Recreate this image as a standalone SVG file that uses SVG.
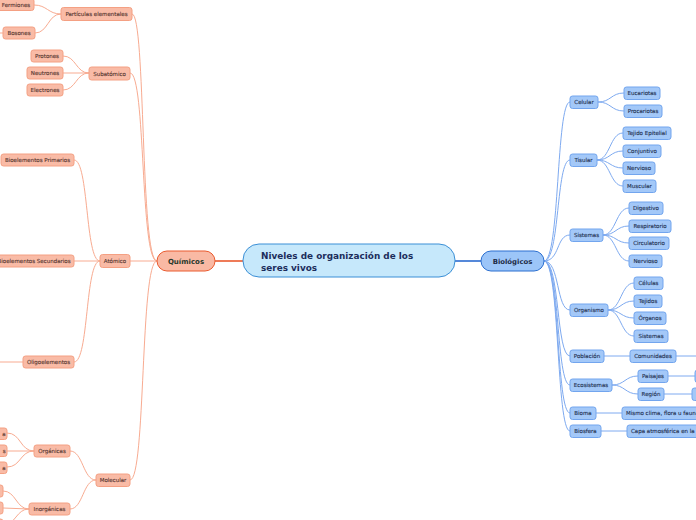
<svg xmlns="http://www.w3.org/2000/svg" width="696" height="520" viewBox="0 0 696 520">
<style>
.o rect{fill:#f9bba6;stroke:#f4a083;stroke-width:1}
.o text{fill:#553630;stroke:#553630;stroke-width:0.12;font-family:"DejaVu Sans",sans-serif;font-size:5.5px;text-anchor:middle}
.b rect{fill:#a3c8f8;stroke:#72a5ee;stroke-width:1}
.b text{fill:#223050;stroke:#223050;stroke-width:0.12;font-family:"DejaVu Sans",sans-serif;font-size:5.5px;text-anchor:middle}
.co path{fill:none;stroke:#f8ab91;stroke-width:1}
.cb path{fill:none;stroke:#7eaaf0;stroke-width:1}
</style>
<rect width="696" height="520" fill="#ffffff"/>
<g id="connectors">
  <path d="M243,261 L215,261" style="fill:none;stroke:#ea5a2e;stroke-width:1.6"/>
  <path d="M455,261 L481,261" style="fill:none;stroke:#2a6ad0;stroke-width:1.6"/>
  <g class="co">
    <path d="M157,261 C140,261 146,14 132,14"/>
    <path d="M157,261 C140,261 146,73 130,73"/>
    <path d="M157,261 L130,261"/>
    <path d="M157,261 C140,261 146,480 130,480"/>
    <path d="M61,14 C48,14 47,5 34,5"/>
    <path d="M61,14 C48,14 48,33 35,33"/>
    <path d="M3,33 L-5,33"/>
    <path d="M89,73 C76,73 76,56 63,56"/>
    <path d="M89,73 L63,73"/>
    <path d="M89,73 C76,73 76,90 63,90"/>
    <path d="M100,261 C85,261 89,160 74,160"/>
    <path d="M100,261 L74,261"/>
    <path d="M100,261 C85,261 89,362 74,362"/>
    <path d="M23,362 L-5,362"/>
    <path d="M96,480 C83,480 83,451 70,451"/>
    <path d="M96,480 C83,480 83,509 70,509"/>
    <path d="M34,451 C20,451 21,433 7,433"/>
    <path d="M34,451 L7,451"/>
    <path d="M34,451 C20,451 21,467 7,467"/>
    <path d="M29,509 C16,509 16,491 3,491"/>
    <path d="M29,509 L3,508"/>
    <path d="M29,509 C16,509 16,525 3,525"/>
  </g>
  <g class="cb">
    <path d="M544,261 C560,261 556,102 570,102"/>
    <path d="M544,261 C560,261 556,160 570,160"/>
    <path d="M544,261 C560,261 556,235 570,235"/>
    <path d="M544,261 C560,261 556,310 570,310"/>
    <path d="M544,261 C560,261 556,356 570,356"/>
    <path d="M544,261 C560,261 556,385 570,385"/>
    <path d="M544,261 C560,261 556,413 570,413"/>
    <path d="M544,261 C560,261 556,431 570,431"/>
    <path d="M598,102 C611,102 611,93 624,93"/>
    <path d="M598,102 C611,102 611,111 624,111"/>
    <path d="M597,160 C610,160 610,133 623,133"/>
    <path d="M597,160 C610,160 610,151 623,151"/>
    <path d="M597,160 C610,160 610,168 623,168"/>
    <path d="M597,160 C610,160 610,186 623,186"/>
    <path d="M603,235 C616,235 616,208 629,208"/>
    <path d="M603,235 C616,235 616,226 629,226"/>
    <path d="M603,235 C616,235 616,243 629,243"/>
    <path d="M603,235 C616,235 616,261 629,261"/>
    <path d="M608,310 C621,310 621,283 634,283"/>
    <path d="M608,310 C621,310 621,301 634,301"/>
    <path d="M608,310 C621,310 621,318 634,318"/>
    <path d="M608,310 C621,310 621,336 634,336"/>
    <path d="M604,356 L630,356"/>
    <path d="M676,356 L700,356"/>
    <path d="M612,385 C625,385 625,376 638,376"/>
    <path d="M612,385 C625,385 625,394 638,394"/>
    <path d="M668,376 L695,376"/>
    <path d="M664,394 L692,394"/>
    <path d="M596,413 L622,413"/>
    <path d="M601,431 L627,431"/>
  </g>
</g>
<g id="central">
  <rect x="243" y="244" width="212" height="33" rx="16" fill="#c6e8fb" stroke="#3b8fd6" stroke-width="1"/>
  <text x="261" y="259" font-family="DejaVu Sans,sans-serif" font-size="8.9" font-weight="bold" fill="#1c2d5c">Niveles de organización de los</text>
  <text x="261" y="270.5" font-family="DejaVu Sans,sans-serif" font-size="8.9" font-weight="bold" fill="#1c2d5c">seres vivos</text>
</g>
<g id="quimicos">
  <rect x="157" y="251" width="58" height="20" rx="10" fill="#f9b9a4" stroke="#ea5a2e" stroke-width="1"/>
  <text x="186" y="263.5" font-family="DejaVu Sans,sans-serif" font-size="7" font-weight="bold" fill="#27382c" text-anchor="middle">Químicos</text>
</g>
<g id="biologicos">
  <rect x="481" y="251" width="63" height="20" rx="10" fill="#9cc5f8" stroke="#2b6fd0" stroke-width="1"/>
  <text x="512.5" y="263.5" font-family="DejaVu Sans,sans-serif" font-size="6.9" font-weight="bold" fill="#1c2a45" text-anchor="middle">Biológicos</text>
</g>
<g id="particulas" class="o"><rect x="61" y="7.5" width="71" height="13" rx="2.5"/><text x="96.5" y="16">Partículas elementales</text></g>
<g id="fermiones" class="o"><rect x="-6" y="-1.5" width="40" height="12" rx="2.5"/><text x="16" y="6.5">Fermiones</text></g>
<g id="bosones" class="o"><rect x="3" y="27" width="32" height="12" rx="2.5"/><text x="19" y="35">Bosones</text></g>
<g id="subatomico" class="o"><rect x="89" y="67" width="41" height="13" rx="2.5"/><text x="109.5" y="75.5">Subatómico</text></g>
<g id="protones" class="o"><rect x="31" y="50" width="32" height="12" rx="2.5"/><text x="47" y="58">Protones</text></g>
<g id="neutrones" class="o"><rect x="27" y="67" width="36" height="12" rx="2.5"/><text x="45" y="75">Neutrones</text></g>
<g id="electrones" class="o"><rect x="27" y="84" width="36" height="12" rx="2.5"/><text x="45" y="92">Electrones</text></g>
<g id="atomico" class="o"><rect x="100" y="254.5" width="30" height="13" rx="2.5"/><text x="115" y="263">Atómico</text></g>
<g id="bioprim" class="o"><rect x="1" y="154" width="73" height="12" rx="2.5"/><text x="37.5" y="162">Bioelementos Primarios</text></g>
<g id="biosec" class="o"><rect x="-8" y="255" width="82" height="12" rx="2.5"/><text x="34" y="263">Bioelementos Secundarios</text></g>
<g id="oligo" class="o"><rect x="23" y="356" width="51" height="12" rx="2.5"/><text x="48.5" y="364">Oligoelementos</text></g>
<g id="molecular" class="o"><rect x="96" y="474" width="34" height="12.5" rx="2.5"/><text x="113" y="482.2">Molecular</text></g>
<g id="organicas" class="o"><rect x="34" y="445" width="36" height="12" rx="2.5"/><text x="52" y="453">Orgánicas</text></g>
<g id="inorganicas" class="o"><rect x="29" y="503" width="41" height="12" rx="2.5"/><text x="49.5" y="511">Inorgánicas</text></g>
<g id="org1" class="o"><rect x="-40" y="428" width="47" height="11.5" rx="2.5"/><text x="5.5" y="435.7" style="text-anchor:end">a</text></g>
<g id="org2" class="o"><rect x="-40" y="445" width="47" height="11.5" rx="2.5"/><text x="5.5" y="452.7" style="text-anchor:end">s</text></g>
<g id="org3" class="o"><rect x="-40" y="462" width="47" height="11.5" rx="2.5"/><text x="5.5" y="469.7" style="text-anchor:end">a</text></g>
<g id="inorg1" class="o"><rect x="-40" y="485" width="43" height="12" rx="2.5"/></g>
<g id="inorg2" class="o"><rect x="-40" y="502" width="43" height="12" rx="2.5"/></g>
<g id="inorg3" class="o"><rect x="-40" y="519" width="43" height="12" rx="2.5"/></g>
<g id="celular" class="b"><rect x="570" y="96" width="28" height="12.5" rx="2.5"/><text x="584" y="104.2">Celular</text></g>
<g id="eucariotas" class="b"><rect x="624" y="87" width="36" height="12.5" rx="2.5"/><text x="642" y="95.2">Eucariotas</text></g>
<g id="procariotas" class="b"><rect x="624" y="105" width="38" height="12.5" rx="2.5"/><text x="643" y="113.2">Procariotas</text></g>
<g id="tisular" class="b"><rect x="570" y="154" width="27" height="12.5" rx="2.5"/><text x="583.5" y="162.2">Tisular</text></g>
<g id="epitelial" class="b"><rect x="623" y="127" width="48" height="12.5" rx="2.5"/><text x="647" y="135.2">Tejido Epitelial</text></g>
<g id="conjuntivo" class="b"><rect x="623" y="145" width="38" height="12.5" rx="2.5"/><text x="642" y="153.2">Conjuntivo</text></g>
<g id="nervioso1" class="b"><rect x="623" y="162" width="32" height="12.5" rx="2.5"/><text x="639" y="170.2">Nervioso</text></g>
<g id="muscular" class="b"><rect x="623" y="180" width="33" height="12.5" rx="2.5"/><text x="639.5" y="188.2">Muscular</text></g>
<g id="sistemas" class="b"><rect x="570" y="229" width="33" height="12.5" rx="2.5"/><text x="586.5" y="237.2">Sistemas</text></g>
<g id="digestivo" class="b"><rect x="629" y="202" width="34" height="12.5" rx="2.5"/><text x="646" y="210.2">Digestivo</text></g>
<g id="respiratorio" class="b"><rect x="629" y="220" width="42" height="12.5" rx="2.5"/><text x="650" y="228.2">Respiratorio</text></g>
<g id="circulatorio" class="b"><rect x="629" y="237" width="40" height="12.5" rx="2.5"/><text x="649" y="245.2">Circulatorio</text></g>
<g id="nervioso2" class="b"><rect x="629" y="255" width="33" height="12.5" rx="2.5"/><text x="645.5" y="263.2">Nervioso</text></g>
<g id="organismo" class="b"><rect x="570" y="304" width="38" height="12.5" rx="2.5"/><text x="589" y="312.2">Organismo</text></g>
<g id="celulas" class="b"><rect x="634" y="277" width="29" height="12.5" rx="2.5"/><text x="648.5" y="285.2">Células</text></g>
<g id="tejidos" class="b"><rect x="634" y="295" width="28" height="12.5" rx="2.5"/><text x="648" y="303.2">Tejidos</text></g>
<g id="organos" class="b"><rect x="634" y="312" width="32" height="12.5" rx="2.5"/><text x="650" y="320.2">Órganos</text></g>
<g id="sistemas2" class="b"><rect x="634" y="330" width="34" height="12.5" rx="2.5"/><text x="651" y="338.2">Sistemas</text></g>
<g id="poblacion" class="b"><rect x="570" y="350" width="34" height="12.5" rx="2.5"/><text x="587" y="358.2">Población</text></g>
<g id="comunidades" class="b"><rect x="630" y="350" width="46" height="12.5" rx="2.5"/><text x="653" y="358.2">Comunidades</text></g>
<g id="ecosistemas" class="b"><rect x="570" y="379" width="42" height="12.5" rx="2.5"/><text x="591" y="387.2">Ecosistemas</text></g>
<g id="paisajes" class="b"><rect x="638" y="370" width="30" height="12.5" rx="2.5"/><text x="653" y="378.2">Paisajes</text></g>
<g id="region" class="b"><rect x="638" y="388" width="26" height="12.5" rx="2.5"/><text x="651" y="396.2">Región</text></g>
<g id="paisajes2" class="b"><rect x="695" y="370" width="30" height="12.5" rx="2.5"/></g>
<g id="region2" class="b"><rect x="692" y="388" width="30" height="12.5" rx="2.5"/></g>
<g id="bioma" class="b"><rect x="570" y="407" width="26" height="12.5" rx="2.5"/><text x="583" y="415.2">Bioma</text></g>
<g id="mismoclima" class="b"><rect x="622" y="407" width="100" height="12.5" rx="2.5"/><text x="626" y="415.2" style="text-anchor:start">Mismo clima, flora u fauna</text></g>
<g id="biosfera" class="b"><rect x="570" y="425" width="31" height="12.5" rx="2.5"/><text x="585.5" y="433.2">Biosfera</text></g>
<g id="capa" class="b"><rect x="627" y="425" width="100" height="12.5" rx="2.5"/><text x="631" y="433.2" style="text-anchor:start">Capa atmosférica en la</text></g>
</svg>
